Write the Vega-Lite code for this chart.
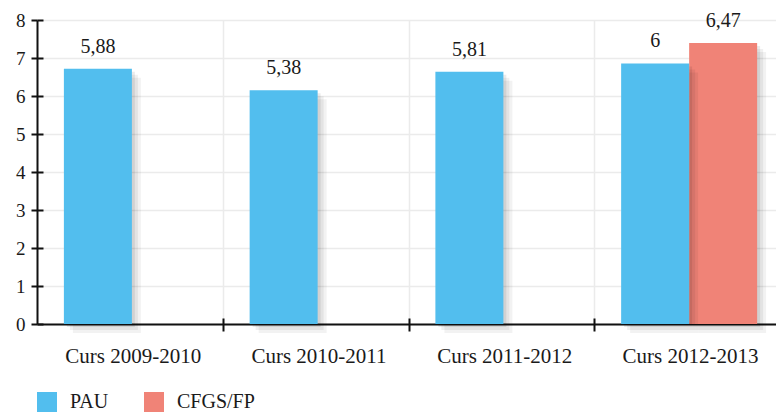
{
  "$schema": "https://vega.github.io/schema/vega-lite/v6.json",
  "width": 739,
  "height": 304,
  "autosize": {"type": "none"},
  "padding": {"left": 37, "top": 20, "right": 0, "bottom": 90},
  "data": {
    "values": [
      {"curs": "Curs 2009-2010", "serie": "PAU", "valor": 5.88},
      {"curs": "Curs 2010-2011", "serie": "PAU", "valor": 5.38},
      {"curs": "Curs 2011-2012", "serie": "PAU", "valor": 5.81},
      {"curs": "Curs 2012-2013", "serie": "PAU", "valor": 6},
      {"curs": "Curs 2012-2013", "serie": "CFGS/FP", "valor": 6.47}
    ]
  },
  "encoding": {
    "x": {"field": "curs", "type": "nominal", "axis": null,
      "scale": {"range": [0, 743], "paddingInner": 0.268, "paddingOuter": 0.134}},
    "y": {"field": "valor", "type": "quantitative", "axis": null,
      "scale": {"domain": [0, 7], "nice": false}},
    "color": {"field": "serie", "type": "nominal",
      "scale": {"domain": ["PAU", "CFGS/FP"], "range": ["#52BEEE", "#F08377"]},
      "legend": {"title": null, "orient": "none", "legendX": 0, "legendY": 372, "direction": "horizontal",
        "symbolType": "square", "symbolSize": 400, "symbolStrokeWidth": 0, "symbolOpacity": 1,
        "labelFontSize": 20, "labelColor": "#1a1a1a", "labelOffset": 13, "columnPadding": 35}}
  },
  "layer": [
    {"transform": [{"filter": "datum.serie === 'CFGS/FP'"}],
     "mark": {"type": "bar", "color": "#000", "opacity": 0.08, "yOffset": 3, "y2Offset": 3},
     "encoding": {"color": {"value": "#000"}, "xOffset": {"field": "serie", "scale": {"domain": ["PAU", "CFGS/FP"], "range": [5, 141]}}}},
    {"transform": [{"filter": "datum.serie === 'CFGS/FP'"}],
     "mark": {"type": "bar", "color": "#000", "opacity": 0.06, "yOffset": 6, "y2Offset": 6},
     "encoding": {"color": {"value": "#000"}, "xOffset": {"field": "serie", "scale": {"domain": ["PAU", "CFGS/FP"], "range": [8, 144]}}}},
    {"transform": [{"filter": "datum.serie === 'CFGS/FP'"}],
     "mark": {"type": "bar", "color": "#000", "opacity": 0.05, "yOffset": 9, "y2Offset": 9},
     "encoding": {"color": {"value": "#000"}, "xOffset": {"field": "serie", "scale": {"domain": ["PAU", "CFGS/FP"], "range": [11, 147]}}}},
    {"transform": [{"filter": "datum.serie === 'CFGS/FP'"}],
     "mark": {"type": "bar"},
     "encoding": {
       "xOffset": {"field": "serie", "scale": {"domain": ["PAU", "CFGS/FP"], "range": [2, 138]}}}},
    {"transform": [{"filter": "datum.serie === 'PAU'"}],
     "mark": {"type": "bar", "color": "#000", "opacity": 0.08, "yOffset": 3, "y2Offset": 3},
     "encoding": {"color": {"value": "#000"}, "xOffset": {"field": "serie", "scale": {"domain": ["PAU", "CFGS/FP"], "range": [5, 141]}}}},
    {"transform": [{"filter": "datum.serie === 'PAU'"}],
     "mark": {"type": "bar", "color": "#000", "opacity": 0.06, "yOffset": 6, "y2Offset": 6},
     "encoding": {"color": {"value": "#000"}, "xOffset": {"field": "serie", "scale": {"domain": ["PAU", "CFGS/FP"], "range": [8, 144]}}}},
    {"transform": [{"filter": "datum.serie === 'PAU'"}],
     "mark": {"type": "bar", "color": "#000", "opacity": 0.05, "yOffset": 9, "y2Offset": 9},
     "encoding": {"color": {"value": "#000"}, "xOffset": {"field": "serie", "scale": {"domain": ["PAU", "CFGS/FP"], "range": [11, 147]}}}},
    {"transform": [{"filter": "datum.serie === 'PAU'"}],
     "mark": {"type": "bar"},
     "encoding": {
       "x": {"field": "curs", "type": "nominal",
         "axis": {"title": null, "orient": "bottom", "labelFontSize": 21, "labelColor": "#1a1a1a", "labelAngle": 0,
           "tickOffset": 92.875, "labelOffset": -90, "grid": true, "gridColor": "#ebebeb", "gridWidth": 1.5,
           "domainColor": "#111", "domainWidth": 2, "tickColor": "#111", "tickWidth": 2,
           "tickSize": 7, "labelPadding": 14}},
       "y": {"field": "valor", "type": "quantitative",
         "axis": {"title": null, "orient": "left", "values": [0, 0.875, 1.75, 2.625, 3.5, 4.375, 5.25, 6.125, 7],
           "labelExpr": "format(datum.value * 8 / 7, '.0f')", "labelFontSize": 19, "labelColor": "#1a1a1a",
           "grid": true, "gridColor": "#ebebeb", "gridWidth": 1.5,
           "domainColor": "#111", "domainWidth": 2, "tickColor": "#111", "tickWidth": 2,
           "tickSize": 6, "labelPadding": 6}},
       "xOffset": {"field": "serie", "scale": {"domain": ["PAU", "CFGS/FP"], "range": [2, 138]}}}},
    {"mark": {"type": "text", "dy": -16, "fontSize": 20, "color": "#1a1a1a", "baseline": "alphabetic"},
     "encoding": {
       "color": {"value": "#1a1a1a"},
       "x": {"field": "curs", "type": "nominal",
         "axis": {"title": null, "orient": "bottom", "labels": false, "domain": false, "grid": false,
           "tickOffset": 92.875, "tickColor": "#111", "tickWidth": 2, "tickSize": -6}},
       "y": {"field": "valor", "type": "quantitative",
         "axis": {"title": null, "orient": "left", "labels": false, "domain": false, "grid": false,
           "values": [0, 0.875, 1.75, 2.625, 3.5, 4.375, 5.25, 6.125, 7],
           "tickColor": "#111", "tickWidth": 2, "tickSize": -6}},
       "xOffset": {"field": "serie", "scale": {"domain": ["PAU", "CFGS/FP"], "range": [2, 138]}},
       "text": {"field": "valor", "type": "quantitative", "format": ".3~r"}}}
  ],
  "resolve": {"scale": {"xOffset": "independent"}, "axis": {"x": "independent", "y": "independent"}},
  "config": {
    "view": {"stroke": null},
    "font": "Liberation Serif",
    "locale": {"number": {"decimal": ",", "thousands": ".", "grouping": [3], "currency": ["", " €"]}}
  }
}
